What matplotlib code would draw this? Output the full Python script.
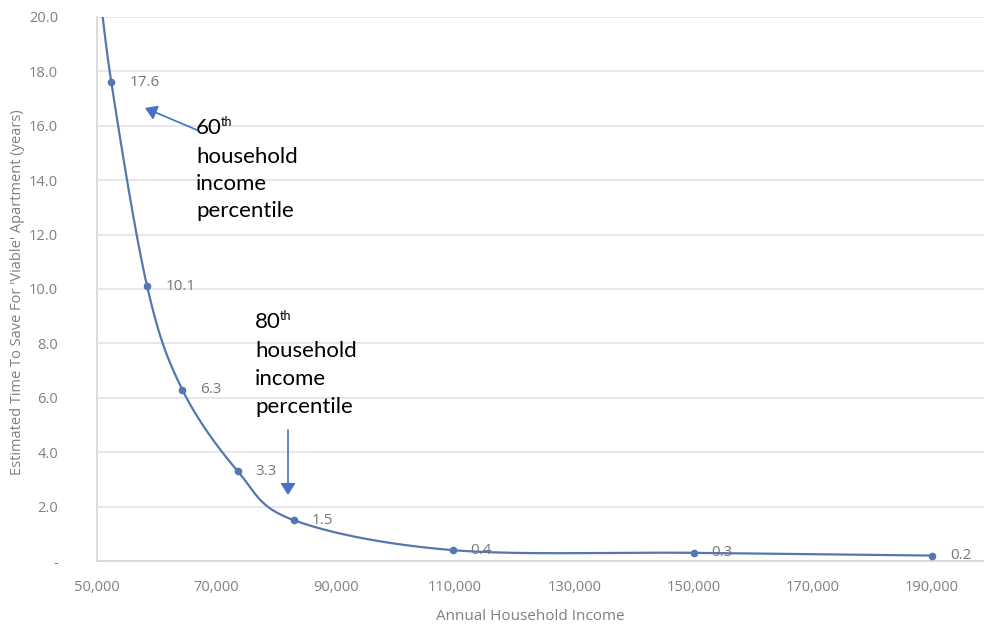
import numpy as np
import matplotlib
matplotlib.use("Agg")
import matplotlib.pyplot as plt
from matplotlib.patches import FancyArrowPatch
from matplotlib.ticker import FuncFormatter

# Annual household income vs. years needed to save for a viable apartment
income = [50000, 52400, 58400, 64300, 73600, 83000, 109600, 150000, 190000]
years = [22.0, 17.6, 10.1, 6.3, 3.3, 1.5, 0.4, 0.3, 0.2]
labelled = [False, True, True, True, True, True, True, True, True]

x_ticks = [50000, 70000, 90000, 110000, 130000, 150000, 170000, 190000]
y_ticks = [0, 2, 4, 6, 8, 10, 12, 14, 16, 18, 20]

x_title = "Annual Household Income"
y_title = "Estimated Time To Save For 'Viable' Apartment (years)"

note_60 = ["60", "th", "household", "income", "percentile"]
note_80 = ["80", "th", "household", "income", "percentile"]

LINE = "#5577B0"
GRID = "#E3E3E3"
TICK = "#808080"
LABEL = "#777777"
ARROW = "#4472C4"
CHART_FONT = ["Open Sans", "DejaVu Sans"]
NOTE_FONT = ["Lato", "DejaVu Sans"]

W, H, DPI = 984, 627, 100
fig = plt.figure(figsize=(W / DPI, H / DPI), dpi=DPI)
fig.patch.set_facecolor("white")

left, right, top, bottom = 97, 984, 17, 561
ax = fig.add_axes([left / W, 1 - bottom / H, (right - left) / W, (bottom - top) / H])

xmin, xmax = 50000, 50000 + (right - left) / 119.3 * 20000
ymin, ymax = 0, 20
ax.set_xlim(xmin, xmax)
ax.set_ylim(ymin, ymax)


def smooth(xs, ys, n=40):
    """Catmull-Rom style Bezier smoothing computed in screen-proportional space."""
    sx = (right - left) / (xmax - xmin)
    sy = (bottom - top) / (ymax - ymin)
    P = np.column_stack([np.asarray(xs, float) * sx, np.asarray(ys, float) * sy])
    out = [P[0]]
    for i in range(len(P) - 1):
        p0 = P[i - 1] if i > 0 else P[i]
        p1, p2 = P[i], P[i + 1]
        p3 = P[i + 2] if i + 2 < len(P) else P[i + 1]
        c1 = p1 + (p2 - p0) / 6
        c2 = p2 - (p3 - p1) / 6
        t = np.linspace(0, 1, n)[1:, None]
        seg = ((1 - t) ** 3) * p1 + 3 * ((1 - t) ** 2) * t * c1 + 3 * (1 - t) * t ** 2 * c2 + t ** 3 * p2
        out.extend(seg)
    out = np.array(out)
    return out[:, 0] / sx, out[:, 1] / sy


cx, cy = smooth(income, years)
ax.plot(cx, cy, color=LINE, lw=1.6, zorder=3, solid_capstyle="round")
ax.plot(income, years, "o", color=LINE, ms=4.5, zorder=4)

for xv, yv, show in zip(income, years, labelled):
    if show:
        ax.annotate(f"{yv:.1f}", (xv, yv), xytext=(13, 0), textcoords="offset points",
                    ha="left", va="center", fontsize=11, color=LABEL,
                    family=CHART_FONT, zorder=5)

# axes styling
ax.set_xticks(x_ticks)
ax.set_yticks(y_ticks)
ax.xaxis.set_major_formatter(FuncFormatter(lambda v, p: f"{int(v):,}"))
ax.yaxis.set_major_formatter(FuncFormatter(lambda v, p: "-" if v == 0 else f"{v:.1f}"))
ax.tick_params(axis="both", length=0, labelsize=10.5, labelcolor=TICK)
ax.tick_params(axis="y", pad=28)
ax.tick_params(axis="x", pad=14)
for lab in ax.get_xticklabels() + ax.get_yticklabels():
    lab.set_family(CHART_FONT)

ax.grid(axis="y", color=GRID, lw=1.2)
ax.set_axisbelow(True)
for s in ["top", "right"]:
    ax.spines[s].set_visible(False)
for s in ["left", "bottom"]:
    ax.spines[s].set_color("#D6D6D6")
    ax.spines[s].set_linewidth(1.2)

fig.text(530 / W, 1 - 617 / H, x_title, ha="center", va="center",
         fontsize=11, color=TICK, family=CHART_FONT)
fig.text(18 / W, 1 - 292 / H, y_title, rotation=90, ha="center", va="center",
         fontsize=10.5, color=TICK, family=CHART_FONT)


def to_fig(px, py):
    return px / W, 1 - py / H


def note(x0, baselines, parts):
    big, sup, *rest = parts
    t = fig.text(*to_fig(x0, baselines[0]), big, fontsize=16, color="black",
                 family=NOTE_FONT, ha="left", va="baseline")
    fig.canvas.draw()
    bb = t.get_window_extent()
    fig.text((bb.x1 - 1) / W, 1 - (baselines[0] - 8) / H, sup, fontsize=9,
             color="black", family=NOTE_FONT, ha="left", va="baseline")
    for line, yb in zip(rest, baselines[1:]):
        fig.text(*to_fig(x0, yb), line, fontsize=16, color="black",
                 family=NOTE_FONT, ha="left", va="baseline")


note(196, [134, 163, 190, 217], note_60)
note(255, [328, 357, 385, 413], note_80)

for start, end in [((197, 130), (145, 108)), ((288, 430), (288, 495))]:
    fig.patches.append(FancyArrowPatch(
        to_fig(*start), to_fig(*end), transform=fig.transFigure,
        arrowstyle="-|>,head_length=7,head_width=4.5", color=ARROW, lw=1.2,
        shrinkA=0, shrinkB=0))

fig.savefig("out.png", dpi=DPI, facecolor="white")
